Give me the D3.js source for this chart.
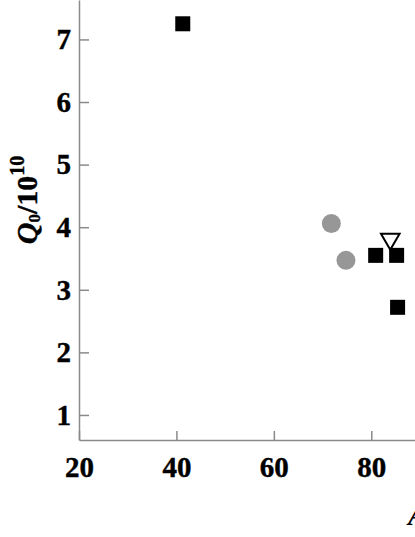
<!DOCTYPE html>
<html>
<head>
<meta charset="utf-8">
<script src="https://cdn.jsdelivr.net/npm/d3@7"></script>
<style>
  body { margin: 0; background: #fff; }
  svg { display: block; }
  .axis text { font-family: "Liberation Serif", "Times New Roman", serif; font-weight: bold; font-size: 29px; fill: #000; stroke: #000; stroke-width: 0.4; }
  .axis path, .axis line { stroke: #8a8a8a; stroke-width: 1.5; }
</style>
</head>
<body>
<script>
// data
var squareX = [41.3, 80.9, 85.2, 85.4];
var squareY = [7.25, 3.55, 3.55, 2.72];
var circleX = [71.8, 74.8];
var circleY = [4.06, 3.47];
var triX = [83.9];
var triY = [3.81];

var xTicks = [20, 40, 60, 80];
var yTicks = [1, 2, 3, 4, 5, 6, 7];

var width = 415, height = 537;

var x = d3.scaleLinear().domain([20, 90]).range([79, 420]);
var y = d3.scaleLinear().domain([0.6, 7.63]).range([440, 0]);

var svg = d3.select("body").append("svg")
    .attr("width", width)
    .attr("height", height);

// y axis, ticks pointing inward
svg.append("g")
    .attr("class", "axis")
    .attr("transform", "translate(" + x(20) + ",0)")
    .call(d3.axisLeft(y).tickValues(yTicks).tickSize(-10).tickSizeOuter(0).tickPadding(8).tickFormat(d3.format("d")));

// x axis
svg.append("g")
    .attr("class", "axis")
    .attr("transform", "translate(0," + y(0.6) + ")")
    .call(d3.axisBottom(x).tickValues(xTicks).tickSize(-9).tickSizeOuter(0).tickPadding(16).tickFormat(d3.format("d")));

// grey circles
svg.selectAll(".dot")
    .data(circleX)
    .enter().append("circle")
    .attr("class", "dot")
    .attr("cx", function (d) { return x(d); })
    .attr("cy", function (d, i) { return y(circleY[i]); })
    .attr("r", 9.5)
    .style("fill", "#979797");

// black squares
var sq = 15;
svg.selectAll(".sq")
    .data(squareX)
    .enter().append("rect")
    .attr("class", "sq")
    .attr("x", function (d) { return x(d) - sq / 2; })
    .attr("y", function (d, i) { return y(squareY[i]) - sq / 2; })
    .attr("width", sq)
    .attr("height", sq)
    .style("fill", "#000");

// open down triangle
svg.selectAll(".tri")
    .data(triX)
    .enter().append("path")
    .attr("class", "tri")
    .attr("d", d3.symbol().type(d3.symbolTriangle).size(150))
    .attr("transform", function (d, i) { return "translate(" + x(d) + "," + y(triY[i]) + ") rotate(180)"; })
    .style("fill", "none")
    .style("stroke", "#000")
    .style("stroke-width", 2);

// y axis title
var yt = svg.append("text")
    .attr("transform", "translate(37,200) rotate(-90)")
    .attr("text-anchor", "middle")
    .style("font-family", "Liberation Serif, Times New Roman, serif")
    .style("font-weight", "bold")
    .style("font-size", "30px")
    .style("stroke", "#000")
    .style("stroke-width", 0.4);
yt.append("tspan").style("font-style", "italic").text("Q");
yt.append("tspan").attr("dy", 3).style("font-size", "17px").text("0");
yt.append("tspan").attr("dy", -3).text("/10");
yt.append("tspan").attr("dy", -13).style("font-size", "20px").text("10");

// x axis title, cut off at the right edge
svg.append("text")
    .attr("x", 408)
    .attr("y", 525)
    .style("font-family", "Liberation Serif, Times New Roman, serif")
    .style("font-weight", "bold")
    .style("font-style", "italic")
    .style("font-size", "30px")
    .text("A");
</script>
</body>
</html>
